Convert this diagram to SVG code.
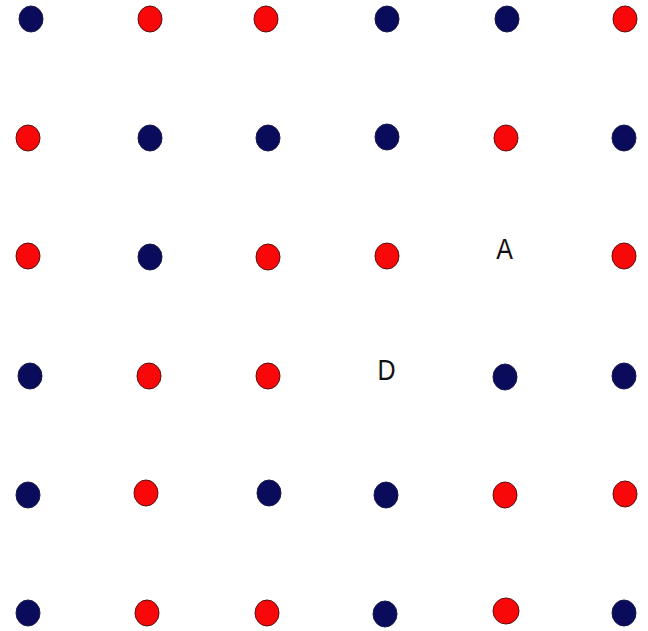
<svg xmlns="http://www.w3.org/2000/svg" width="648" height="631" viewBox="0 0 648 631">
<style>
.b{fill:#0b0b5c;stroke:#1a1a4a;stroke-width:1}
.r{fill:#f80808;stroke:#5a1010;stroke-width:1}
.t{font-family:"Liberation Sans",Arial,sans-serif;font-size:25px;fill:#111;text-anchor:middle}
</style>
<rect width="648" height="631" fill="#fff"/>
<g id="connectors"/>
<g id="r1">
<g id="n1_1"><ellipse class="b" cx="31" cy="19" rx="12" ry="13"/></g>
<g id="n1_2"><ellipse class="r" cx="150" cy="19" rx="12" ry="13"/></g>
<g id="n1_3"><ellipse class="r" cx="266" cy="19" rx="12" ry="13"/></g>
<g id="n1_4"><ellipse class="b" cx="387" cy="19" rx="12" ry="13"/></g>
<g id="n1_5"><ellipse class="b" cx="507" cy="19" rx="12" ry="13"/></g>
<g id="n1_6"><ellipse class="r" cx="625" cy="19" rx="12" ry="13"/></g>
</g>
<g id="r2">
<g id="n2_1"><ellipse class="r" cx="28" cy="138" rx="12" ry="13"/></g>
<g id="n2_2"><ellipse class="b" cx="150" cy="138" rx="12" ry="13"/></g>
<g id="n2_3"><ellipse class="b" cx="268" cy="138" rx="12" ry="13"/></g>
<g id="n2_4"><ellipse class="b" cx="387" cy="137" rx="12" ry="13"/></g>
<g id="n2_5"><ellipse class="r" cx="506" cy="138" rx="12" ry="13"/></g>
<g id="n2_6"><ellipse class="b" cx="624" cy="138" rx="12" ry="13"/></g>
</g>
<g id="r3">
<g id="n3_1"><ellipse class="r" cx="28" cy="256" rx="12" ry="13"/></g>
<g id="n3_2"><ellipse class="b" cx="150" cy="257" rx="12" ry="13"/></g>
<g id="n3_3"><ellipse class="r" cx="268" cy="257" rx="12" ry="13"/></g>
<g id="n3_4"><ellipse class="r" cx="387" cy="256" rx="12" ry="13"/></g>
<g id="nA" transform="translate(504.5,259) scale(1,1.2)"><text class="t" x="0" y="0">A</text></g>
<g id="n3_6"><ellipse class="r" cx="624" cy="256" rx="12" ry="13"/></g>
</g>
<g id="r4">
<g id="n4_1"><ellipse class="b" cx="30" cy="376" rx="12" ry="13"/></g>
<g id="n4_2"><ellipse class="r" cx="149" cy="376" rx="12" ry="13"/></g>
<g id="n4_3"><ellipse class="r" cx="268" cy="376" rx="12" ry="13"/></g>
<g id="nD" transform="translate(386.5,380) scale(1,1.2)"><text class="t" x="0" y="0">D</text></g>
<g id="n4_5"><ellipse class="b" cx="505" cy="377" rx="12" ry="13"/></g>
<g id="n4_6"><ellipse class="b" cx="624" cy="376" rx="12" ry="13"/></g>
</g>
<g id="r5">
<g id="n5_1"><ellipse class="b" cx="28" cy="495" rx="12" ry="13"/></g>
<g id="n5_2"><ellipse class="r" cx="146" cy="493" rx="12" ry="13"/></g>
<g id="n5_3"><ellipse class="b" cx="269" cy="493" rx="12" ry="13"/></g>
<g id="n5_4"><ellipse class="b" cx="386" cy="495" rx="12" ry="13"/></g>
<g id="n5_5"><ellipse class="r" cx="505" cy="495" rx="12" ry="13"/></g>
<g id="n5_6"><ellipse class="r" cx="625" cy="494" rx="12" ry="13"/></g>
</g>
<g id="r6">
<g id="n6_1"><ellipse class="b" cx="28" cy="613" rx="12" ry="13"/></g>
<g id="n6_2"><ellipse class="r" cx="147" cy="613" rx="12" ry="13"/></g>
<g id="n6_3"><ellipse class="r" cx="267" cy="613" rx="12" ry="13"/></g>
<g id="n6_4"><ellipse class="b" cx="385" cy="614" rx="12" ry="13"/></g>
<g id="n6_5"><ellipse class="r" cx="506" cy="611" rx="13" ry="13"/></g>
<g id="n6_6"><ellipse class="b" cx="624" cy="613" rx="12" ry="13"/></g>
</g>
</svg>
